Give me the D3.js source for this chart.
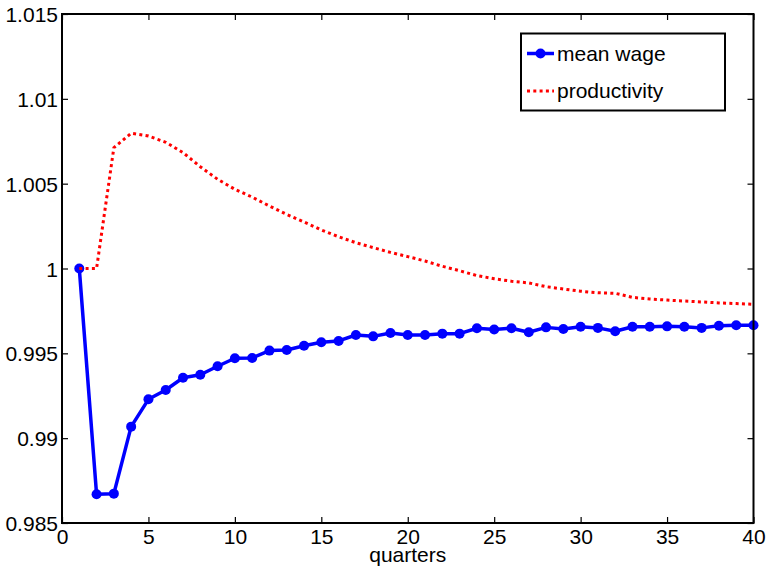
<!DOCTYPE html>
<html>
<head>
<meta charset="utf-8">
<script src="https://cdn.jsdelivr.net/npm/d3@7"></script>
<style>
  html, body { margin: 0; padding: 0; background: #fff; }
  svg { display: block; }
  text { font-family: "Liberation Sans", Arial, Helvetica, sans-serif; fill: #000; }
</style>
</head>
<body>
<svg id="chart" width="767" height="568"></svg>
<script>
// Impulse responses over 40 quarters
const quarters = d3.range(1, 41);
const meanWage = [
  1.0000, 0.98669, 0.98673, 0.99068, 0.99229, 0.99284, 0.99356, 0.99374, 0.99424, 0.99471,
  0.99473, 0.99516, 0.99520, 0.99545, 0.99565, 0.99573, 0.99608, 0.99600, 0.99620, 0.99608,
  0.99608, 0.99616, 0.99616, 0.99648, 0.99640, 0.99648, 0.99624, 0.99653, 0.99643, 0.99657,
  0.99650, 0.99630, 0.99657, 0.99657, 0.99659, 0.99657, 0.99650, 0.99663, 0.99665, 0.99665
];
const productivity = [
  1.0000, 1.0000, 1.00712, 1.00797, 1.00781, 1.00744, 1.00683, 1.00600, 1.00526, 1.00467,
  1.00421, 1.00368, 1.00319, 1.00274, 1.00227, 1.00187, 1.00152, 1.00123, 1.00095, 1.00070,
  1.00044, 1.00013, 0.99987, 0.99958, 0.99940, 0.99925, 0.99915, 0.99893, 0.99879, 0.99866,
  0.99857, 0.99854, 0.99830, 0.99820, 0.99814, 0.99808, 0.99803, 0.99797, 0.99793, 0.99789
];
const xTicks = [0, 5, 10, 15, 20, 25, 30, 35, 40];
const yTicks = [0.985, 0.99, 0.995, 1, 1.005, 1.01, 1.015];
const yTickLabels = ["0.985", "0.99", "0.995", "1", "1.005", "1.01", "1.015"];
const seriesNames = ["mean wage", "productivity"];

const svg = d3.select("#chart");
const plotLeft = 62, plotRight = 753.5, plotTop = 14, plotBottom = 523;

const x = d3.scaleLinear().domain([0, 40]).range([plotLeft, plotRight]);
const y = d3.scaleLinear().domain([0.985, 1.015]).range([plotBottom, plotTop]);

const fontSize = 21;

// Axes: ticks point inward, mirrored on top/right
const tickLen = 6;
const axisG = svg.append("g");

const xAxisB = d3.axisBottom(x).tickValues(xTicks).tickSize(-tickLen).tickSizeOuter(0).tickPadding(6).tickFormat(d3.format("d"));
const gxb = axisG.append("g").attr("transform", `translate(0,${plotBottom})`).call(xAxisB);
const xAxisT = d3.axisTop(x).tickValues(xTicks).tickSize(-tickLen).tickSizeOuter(0).tickFormat("");
const gxt = axisG.append("g").attr("transform", `translate(0,${plotTop})`).call(xAxisT);

const yAxisL = d3.axisLeft(y).tickValues(yTicks).tickSize(-tickLen).tickSizeOuter(0).tickPadding(4)
  .tickFormat((d, i) => yTickLabels[i]);
const gyl = axisG.append("g").attr("transform", `translate(${plotLeft},0)`).call(yAxisL);
const yAxisR = d3.axisRight(y).tickValues(yTicks).tickSize(-tickLen).tickSizeOuter(0).tickFormat("");
const gyr = axisG.append("g").attr("transform", `translate(${plotRight},0)`).call(yAxisR);

[gxb, gxt, gyl, gyr].forEach(g => {
  g.select(".domain").remove();
  g.selectAll(".tick line").attr("stroke", "#000").attr("stroke-width", 1.2);
  g.selectAll(".tick text")
    .style("font-family", '"Liberation Sans", Arial, sans-serif')
    .style("font-size", fontSize + "px")
    .attr("fill", "#000");
});
gxb.selectAll(".tick text").attr("dy", "0.71em");
gyl.selectAll(".tick text").attr("dy", "0.36em");

// Data lines
const line = d3.line().x((d, i) => x(quarters[i])).y(d => y(d));

svg.append("path")
  .datum(meanWage)
  .attr("fill", "none")
  .attr("stroke", "#0000ff")
  .attr("stroke-width", 3.5)
  .attr("stroke-linejoin", "round")
  .attr("d", line);

svg.append("g").selectAll("circle")
  .data(meanWage)
  .join("circle")
  .attr("cx", (d, i) => x(quarters[i]))
  .attr("cy", d => y(d))
  .attr("r", 5)
  .attr("fill", "#0000ff");

svg.append("path")
  .datum(productivity)
  .attr("fill", "none")
  .attr("stroke", "#ff0000")
  .attr("stroke-width", 3)
  .attr("stroke-dasharray", "3,3.3")
  .attr("d", line);

// Plot frame
svg.append("rect")
  .attr("x", plotLeft).attr("y", plotTop)
  .attr("width", plotRight - plotLeft).attr("height", plotBottom - plotTop)
  .attr("fill", "none")
  .attr("stroke", "#000")
  .attr("stroke-width", 2);

// X axis title
svg.append("text")
  .attr("x", (plotLeft + plotRight) / 2)
  .attr("y", 562)
  .attr("text-anchor", "middle")
  .style("font-size", fontSize + "px")
  .text("quarters");

// Legend
const lg = svg.append("g");
lg.append("rect")
  .attr("x", 521).attr("y", 33.5)
  .attr("width", 204).attr("height", 77)
  .attr("fill", "#fff")
  .attr("stroke", "#000")
  .attr("stroke-width", 2);

lg.append("line")
  .attr("x1", 527).attr("x2", 554).attr("y1", 53.5).attr("y2", 53.5)
  .attr("stroke", "#0000ff").attr("stroke-width", 3.5);
lg.append("circle").attr("cx", 540.5).attr("cy", 53.5).attr("r", 5).attr("fill", "#0000ff");
lg.append("text").attr("x", 557).attr("y", 61).style("font-size", fontSize + "px").text(seriesNames[0]);

lg.append("line")
  .attr("x1", 527).attr("x2", 554).attr("y1", 91).attr("y2", 91)
  .attr("stroke", "#ff0000").attr("stroke-width", 3).attr("stroke-dasharray", "3,3.3");
lg.append("text").attr("x", 557).attr("y", 98).style("font-size", fontSize + "px").text(seriesNames[1]);
</script>
</body>
</html>
